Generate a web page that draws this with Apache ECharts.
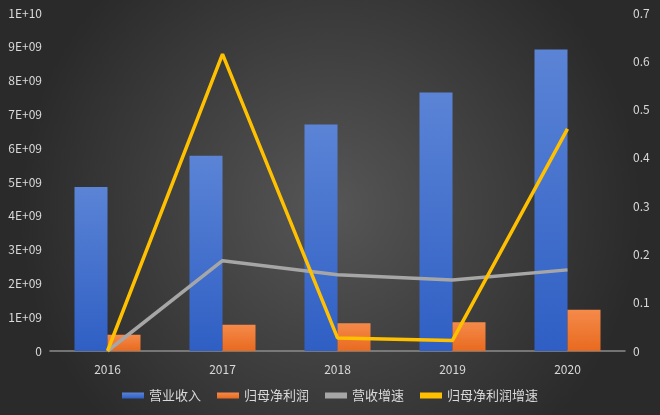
<!DOCTYPE html>
<html><head><meta charset="utf-8">
<script src="https://cdn.jsdelivr.net/npm/echarts@6/dist/echarts.min.js"></script>
<style>html,body{margin:0;padding:0;}#c{width:660px;height:415px;}</style>
</head><body><div id="c"></div>
<script>
var years = ['2016', '2017', '2018', '2019', '2020'];
var revenue = [4.85e9, 5.78e9, 6.7e9, 7.65e9, 8.92e9];
var netProfit = [0.48e9, 0.78e9, 0.82e9, 0.85e9, 1.22e9];
var revGrowth = [0, 0.187, 0.158, 0.147, 0.168];
var profitGrowth = [0, 0.615, 0.027, 0.022, 0.46];

var font = '"Noto Sans CJK SC", "Liberation Sans", sans-serif';
function sci(v){
  if (v === 0) return '0';
  var e = Math.floor(Math.log10(v) + 1e-9);
  var m = Math.round(v / Math.pow(10, e));
  return m + 'E+' + (e < 10 ? '0' + e : e);
}
var chart = echarts.init(document.getElementById('c'));
chart.setOption({
  backgroundColor: new echarts.graphic.RadialGradient(0.5, 0.5, 0.75, [
    {offset: 0, color: '#565656'}, {offset: 1, color: '#2a2a2a'}]),
  textStyle: {fontFamily: font},
  grid: {left: 50, right: 35, top: 13, bottom: 64},
  legend: {
    bottom: 8, itemWidth: 22, itemHeight: 6, itemGap: 16,
    textStyle: {color: '#d9d9d9', fontSize: 13},
    data: [{name: '营业收入', icon: 'rect'}, {name: '归母净利润', icon: 'rect'},
           {name: '营收增速', icon: 'rect'}, {name: '归母净利润增速', icon: 'rect'}]
  },
  xAxis: {
    type: 'category', data: years,
    axisLine: {lineStyle: {color: '#8c8c8c', width: 1.5}},
    axisTick: {show: false},
    axisLabel: {color: '#d9d9d9', fontSize: 12, margin: 12}
  },
  yAxis: [{
    type: 'value', min: 0, max: 1e10, interval: 1e9,
    axisLabel: {color: '#d9d9d9', fontSize: 12, formatter: sci},
    splitLine: {show: false}, axisLine: {show: false}
  }, {
    type: 'value', min: 0, max: 0.7, interval: 0.1,
    axisLabel: {color: '#d9d9d9', fontSize: 12},
    splitLine: {show: false}, axisLine: {show: false}
  }],
  series: [{
    name: '营业收入', type: 'bar', data: revenue, barWidth: 33, barGap: '0%',
    itemStyle: {color: new echarts.graphic.LinearGradient(0, 0, 0, 1, [
      {offset: 0, color: '#5b84d6'}, {offset: 1, color: '#2f5fc4'}])}
  }, {
    name: '归母净利润', type: 'bar', data: netProfit, barWidth: 33,
    itemStyle: {color: new echarts.graphic.LinearGradient(0, 0, 0, 1, [
      {offset: 0, color: '#f58a4a'}, {offset: 1, color: '#e86a1f'}])}
  }, {
    name: '营收增速', type: 'line', yAxisIndex: 1, data: revGrowth,
    symbol: 'none', lineStyle: {color: '#a6a6a6', width: 3.5}, itemStyle: {color: '#a6a6a6'}
  }, {
    name: '归母净利润增速', type: 'line', yAxisIndex: 1, data: profitGrowth,
    symbol: 'none', lineStyle: {color: '#ffc000', width: 3.5}, itemStyle: {color: '#ffc000'}
  }]
});
</script></body></html>
